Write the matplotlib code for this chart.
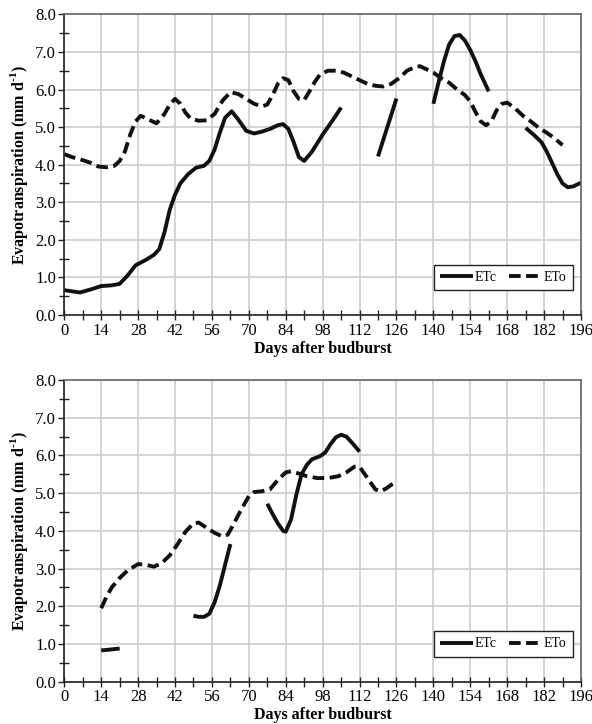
import numpy as np
import matplotlib
matplotlib.use("Agg")
import matplotlib.pyplot as plt
from matplotlib.ticker import MultipleLocator

plt.rcParams['font.family'] = ['Liberation Serif', 'DejaVu Serif']
plt.rcParams['mathtext.fontset'] = 'custom'
plt.rcParams['mathtext.rm'] = 'Liberation Serif:bold'
plt.rcParams['mathtext.bf'] = 'Liberation Serif:bold'

nan = np.nan

# top panel: ETc (gaps marked with nan)
top_etc_days = [0, 3, 6, 10, 14, 18, 21, 24, 27, 31, 34, 36, 38, 40, 42, 44, 47, 50, 53, 55,
                57, 59, 61, 63.5, 66, 69, 72, 75, 78, 81, 83, 85, 87, 89, 91, 94, 98, 102, 105,
                nan, 119, 126,
                nan, 140, 142, 144, 146, 148, 150, 152, 154, 156, 158, 161,
                nan, 175, 178, 181, 183, 185, 187, 189, 191, 193, 196]
top_etc = [0.66, 0.63, 0.60, 0.68, 0.77, 0.79, 0.83, 1.05, 1.32, 1.47, 1.60, 1.75, 2.2, 2.8,
           3.2, 3.5, 3.75, 3.92, 3.97, 4.1, 4.4, 4.85, 5.25, 5.42, 5.2, 4.9, 4.83, 4.88, 4.95,
           5.05, 5.08, 4.95, 4.6, 4.2, 4.1, 4.35, 4.8, 5.2, 5.52,
           nan, 4.22, 5.76,
           nan, 5.62, 6.2, 6.75, 7.2, 7.42, 7.45, 7.3, 7.05, 6.75, 6.4, 5.95,
           nan, 4.98, 4.8, 4.6, 4.35, 4.05, 3.75, 3.5, 3.4, 3.42, 3.52]

# top panel: ETo
top_eto_days = [0, 3, 7, 10, 13, 16, 19, 21, 23, 25, 27, 29, 32, 35, 38, 40, 42, 44, 46, 48,
                51, 54, 57, 60, 63, 66, 69, 72, 75, 77, 79, 81, 83, 85, 87, 89, 91, 93, 95, 97,
                100, 103, 106, 109, 112, 115, 118, 121, 124, 127, 130, 133, 135, 137, 140, 143,
                146, 149, 152, 154, 156, 158, 160, 162, 164, 166, 168, 171, 174, 177, 180, 183,
                186, 189]
top_eto = [4.28, 4.2, 4.12, 4.05, 3.95, 3.93, 3.97, 4.1, 4.35, 4.8, 5.15, 5.3, 5.2, 5.1, 5.35,
           5.6, 5.75, 5.62, 5.38, 5.22, 5.17, 5.18, 5.35, 5.7, 5.93, 5.88, 5.75, 5.62, 5.55,
           5.6, 5.85, 6.15, 6.3, 6.25, 5.95, 5.75, 5.72, 5.95, 6.2, 6.4, 6.5, 6.5, 6.45, 6.35,
           6.25, 6.15, 6.1, 6.08, 6.15, 6.3, 6.5, 6.6, 6.62, 6.55, 6.45, 6.3, 6.18, 6.0, 5.85,
           5.68, 5.4, 5.15, 5.05, 5.15, 5.45, 5.62, 5.65, 5.5, 5.3, 5.15, 4.98, 4.85, 4.7, 4.52]

# bottom panel: ETc
bot_etc_days = [14, 17, 21,
                nan, 49, 51, 53, 55, 57, 59, 61, 63,
                nan, 77, 79, 81, 83, 84, 86, 88, 90, 92, 94, 97, 99, 101, 103, 105, 107, 109, 112]
bot_etc = [0.83, 0.85, 0.88,
           nan, 1.75, 1.72, 1.72, 1.8, 2.1, 2.55, 3.1, 3.65,
           nan, 4.72, 4.45, 4.2, 4.0, 3.98, 4.3, 4.95, 5.5, 5.75, 5.9, 5.98, 6.08, 6.3, 6.48,
           6.55, 6.5, 6.35, 6.1]

# bottom panel: ETo
bot_eto_days = [14, 16, 18, 21, 24, 28, 31, 34, 37, 40, 43, 46, 49, 51, 54, 57, 60, 62, 64, 67,
                70, 72, 75, 78, 81, 84, 86, 89, 92, 96, 100, 104, 107, 110, 112, 114, 116, 118,
                120, 122, 124, 126]
bot_eto = [1.95, 2.25, 2.5, 2.75, 2.95, 3.12, 3.1, 3.05, 3.15, 3.35, 3.65, 3.98, 4.2, 4.22,
           4.08, 3.95, 3.85, 3.9, 4.15, 4.55, 4.92, 5.03, 5.05, 5.1, 5.35, 5.55, 5.58, 5.52,
           5.45, 5.4, 5.4, 5.45, 5.55, 5.7, 5.7, 5.5, 5.3, 5.1, 5.05, 5.12, 5.22, 5.3]

x_ticks = list(range(0, 197, 14))
y_ticks = [0, 1, 2, 3, 4, 5, 6, 7, 8]

fig = plt.figure(figsize=(5.92, 7.24), dpi=100)
ax_top = fig.add_axes([0.1086, 0.5649, 0.8728, 0.4153])
ax_bot = fig.add_axes([0.1086, 0.0584, 0.8728, 0.4167])


def style_axes(ax):
    ax.set_xlim(0, 196)
    ax.set_ylim(0, 8)
    ax.set_xticks(x_ticks)
    ax.set_yticks(y_ticks)
    ax.set_yticklabels([f"{v:.1f}" for v in y_ticks])
    ax.xaxis.set_minor_locator(MultipleLocator(7))
    ax.yaxis.set_minor_locator(MultipleLocator(0.5))
    ax.grid(True, which='major', color='#d0d0d0', linewidth=1.3)
    ax.set_axisbelow(True)
    ax.tick_params(which='both', direction='inout', length=7, width=1.0,
                   labelsize=12, pad=2, color='#222222')
    ax.tick_params(axis='y', which='major', direction='out', length=4)
    for s in ['left', 'bottom']:
        ax.spines[s].set_color('#222222')
        ax.spines[s].set_linewidth(1.2)
    for s in ['top', 'right']:
        ax.spines[s].set_color('#666666')
        ax.spines[s].set_linewidth(1.2)
    ax.set_xlabel('Days after budburst', fontsize=11.5, fontweight='bold', labelpad=1.5)
    ax.set_ylabel('Evapotranspiration (mm d$^{\\text{-1}}$)', fontsize=11.5,
                  fontweight='bold', labelpad=4)


def draw(ax, etc_days, etc, eto_days, eto):
    ax.plot(etc_days, etc, color='#111111', linewidth=2.8, solid_capstyle='butt',
            solid_joinstyle='round', label='ETc')
    ax.plot(eto_days, eto, color='#111111', linewidth=2.8, dashes=(3.0, 1.4),
            dash_capstyle='butt', label='ETo')
    leg = ax.legend(loc='lower right', bbox_to_anchor=(0.9845, 0.083), borderaxespad=0,
                    ncol=2, fontsize=10, frameon=True, fancybox=False, framealpha=1,
                    edgecolor='#222222', handlelength=2.4, handletextpad=0.1,
                    columnspacing=0.9, borderpad=0.45)
    leg.get_frame().set_linewidth(1.0)


style_axes(ax_top)
draw(ax_top, top_etc_days, top_etc, top_eto_days, top_eto)
style_axes(ax_bot)
draw(ax_bot, bot_etc_days, bot_etc, bot_eto_days, bot_eto)

fig.savefig('out.png', dpi=100)
